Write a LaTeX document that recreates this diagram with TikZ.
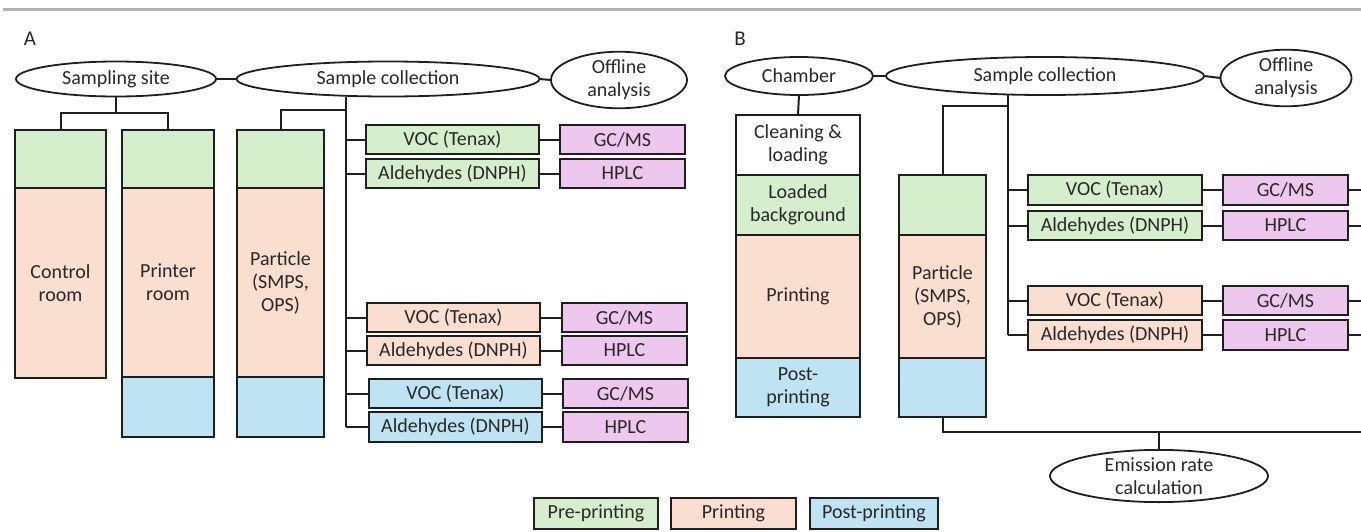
\documentclass[tikz,border=0pt]{standalone}
\usepackage{fontspec}
\setmainfont{Carlito}
\usetikzlibrary{shapes.geometric}
\definecolor{bord}{RGB}{30,30,30}
\definecolor{txt}{RGB}{40,40,40}
\definecolor{pre}{RGB}{213,239,205}
\definecolor{prt}{RGB}{250,222,208}
\definecolor{post}{RGB}{190,228,244}
\definecolor{ana}{RGB}{238,199,238}
\newcommand{\bnode}[7]{%
 \pgfmathsetmacro\bw{#4-#2}\pgfmathsetmacro\bh{#5-#3}%
 \pgfmathsetmacro\bcx{(#2+#4)/2}\pgfmathsetmacro\bcy{(#3+#5)/2}%
 \node[#6, minimum width=\bw pt, minimum height=\bh pt] (#1) at (\bcx,\bcy) {#7};}
\begin{document}
\begin{tikzpicture}[x=1pt,y=-1pt,
  box/.style={draw=bord, line width=2pt, inner sep=0pt, outer sep=0pt, align=center, text=txt, font=\fontsize{20}{23}\selectfont},
  oval/.style={ellipse, draw=bord, line width=1.8pt, inner sep=0pt, outer sep=0pt, align=center, text=txt, font=\fontsize{20}{23}\selectfont},
  conn/.style={draw=bord, line width=2pt},
  lbl/.style={text=txt, font=\fontsize{21}{24}\selectfont, inner sep=0pt}]
\useasboundingbox (0,0) rectangle (1361,531);
\draw[color=black!30, line width=2.5pt] (3,9.5) -- (1361,9.5);
\coordinate (rE) at (1361,0);
% ---------------- Panel A
\node[lbl] (labA) at (30,39) {A};
\node[oval, minimum width=200pt, minimum height=35pt] (ssA) at (116,79) {Sampling site};
\node[oval, minimum width=303pt, minimum height=35pt] (scA) at (388,79) {Sample collection};
\node[oval, minimum width=136pt, minimum height=50pt] (oaA) at (619,80) {Offline\\analysis};
% columns
\bnode{crG}{15}{130}{106}{188}{box, fill=pre}{}
\bnode{crP}{15}{188}{106}{378}{box, fill=prt}{Control\\room}
\bnode{prG}{122}{130}{214}{188}{box, fill=pre}{}
\bnode{prP}{122}{188}{214}{377}{box, fill=prt}{Printer\\room}
\bnode{prB}{122}{377}{214}{437}{box, fill=post}{}
\bnode{paG}{237}{130}{324}{188}{box, fill=pre}{}
\bnode{paP}{237}{188}{324}{377}{box, fill=prt}{Particle\\(SMPS,\\OPS)}
\bnode{paB}{237}{377}{324}{437}{box, fill=post}{}
% sample boxes
\bnode{vA1}{366}{125}{539}{154}{box, fill=pre}{VOC (Tenax)}
\bnode{aA1}{366}{159}{539}{188}{box, fill=pre}{Aldehydes (DNPH)}
\bnode{gA1}{560}{125}{685}{154}{box, fill=ana}{GC/MS}
\bnode{hA1}{560}{159}{685}{188}{box, fill=ana}{HPLC}
\bnode{vA2}{367}{303}{540}{332}{box, fill=prt}{VOC (Tenax)}
\bnode{aA2}{367}{336}{540}{365}{box, fill=prt}{Aldehydes (DNPH)}
\bnode{gA2}{562}{303}{687}{332}{box, fill=ana}{GC/MS}
\bnode{hA2}{562}{336}{687}{365}{box, fill=ana}{HPLC}
\bnode{vA3}{369}{379}{542}{408}{box, fill=post}{VOC (Tenax)}
\bnode{aA3}{369}{412}{542}{442}{box, fill=post}{Aldehydes (DNPH)}
\bnode{gA3}{563}{379}{688}{408}{box, fill=ana}{GC/MS}
\bnode{hA3}{563}{412}{688}{442}{box, fill=ana}{HPLC}
% connectors A
\draw[conn] (ssA.east) -- (scA.west);
\draw[conn] (scA.east) -- (oaA.west);
\coordinate (jA) at (116,113);
\draw[conn] (ssA.south) -- (jA);
\draw[conn] (crG.north) |- (jA) -| (prG.north);
\coordinate (tA) at (346,110);
\draw[conn] (scA.south -| tA) -- (aA3.west -| tA);
\draw[conn] (tA) -| (paG.north);
\foreach \b in {vA1,aA1,vA2,aA2,vA3,aA3} \draw[conn] (\b.west -| tA) -- (\b.west);
\draw[conn] (vA1.east) -- (gA1.west);
\draw[conn] (aA1.east) -- (hA1.west);
\draw[conn] (vA2.east) -- (gA2.west);
\draw[conn] (aA2.east) -- (hA2.west);
\draw[conn] (vA3.east) -- (gA3.west);
\draw[conn] (aA3.east) -- (hA3.west);
% ---------------- Panel B
\node[lbl] (labB) at (740,39) {B};
\node[oval, minimum width=148pt, minimum height=38pt] (chB) at (799,76) {Chamber};
\node[oval, minimum width=318pt, minimum height=38pt] (scB) at (1045,76) {Sample collection};
\node[oval, minimum width=131pt, minimum height=51pt] (oaB) at (1286,78) {Offline\\analysis};
\bnode{chW}{736}{115}{860}{175}{box, fill=white}{Cleaning \&\\loading}
\bnode{chG}{736}{175}{860}{235}{box, fill=pre}{Loaded\\background}
\bnode{chP}{736}{235}{860}{358}{box, fill=prt}{Printing}
\bnode{chBl}{736}{358}{860}{417}{box, fill=post}{Post-\\printing}
\bnode{pbG}{899}{175}{986}{235}{box, fill=pre}{}
\bnode{pbP}{899}{235}{986}{358}{box, fill=prt}{Particle\\(SMPS,\\OPS)}
\bnode{pbB}{899}{358}{986}{417}{box, fill=post}{}
\bnode{vB1}{1028}{175}{1202}{205}{box, fill=pre}{VOC (Tenax)}
\bnode{aB1}{1028}{211}{1202}{240}{box, fill=pre}{Aldehydes (DNPH)}
\bnode{gB1}{1223}{175}{1348}{205}{box, fill=ana}{GC/MS}
\bnode{hB1}{1223}{211}{1348}{240}{box, fill=ana}{HPLC}
\bnode{vB2}{1028}{286}{1202}{315}{box, fill=prt}{VOC (Tenax)}
\bnode{aB2}{1028}{320}{1202}{350}{box, fill=prt}{Aldehydes (DNPH)}
\bnode{gB2}{1223}{286}{1348}{315}{box, fill=ana}{GC/MS}
\bnode{hB2}{1223}{320}{1348}{350}{box, fill=ana}{HPLC}
\node[oval, minimum width=218pt, minimum height=48pt] (erB) at (1159,476) {Emission rate\\calculation};
% connectors B
\draw[conn] (chB.east) -- (scB.west);
\draw[conn] (scB.east) -- (oaB.west);
\draw[conn] (chB.south) -- (chW.north);
\coordinate (tB) at (1008,106);
\draw[conn] (scB.south -| tB) -- (aB2.west -| tB);
\draw[conn] (tB) -| (pbG.north);
\foreach \b in {vB1,aB1,vB2,aB2} \draw[conn] (\b.west -| tB) -- (\b.west);
\draw[conn] (vB1.east) -- (gB1.west);
\draw[conn] (aB1.east) -- (hB1.west);
\draw[conn] (vB2.east) -- (gB2.west);
\draw[conn] (aB2.east) -- (hB2.west);
\foreach \b in {gB1,hB1,gB2,hB2} \draw[conn] (\b.east) -- (\b.east -| rE);
\coordinate (botR) at (1361,432);
\draw[conn] (pbB.south) |- (botR);
\draw[conn] (erB.north) -- (erB.north |- botR);
% ---------------- Legend
\bnode{lg1}{534}{498}{658}{529}{box, fill=pre}{Pre-printing}
\bnode{lg2}{671}{498}{796}{529}{box, fill=prt}{Printing}
\bnode{lg3}{810}{498}{938}{529}{box, fill=post}{Post-printing}
\end{tikzpicture}
\end{document}
